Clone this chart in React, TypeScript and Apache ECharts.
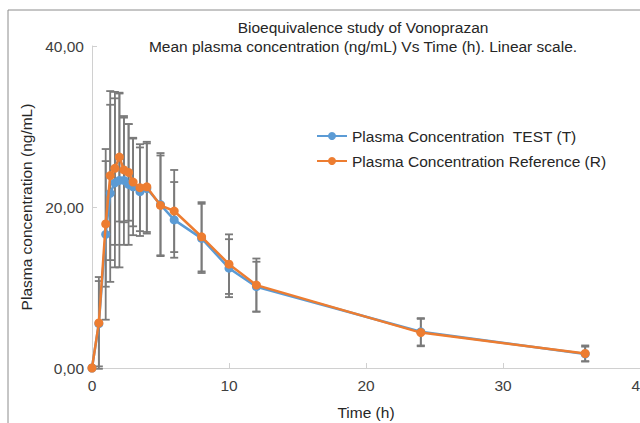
import React, { useEffect, useRef } from "react";
import * as echarts from "echarts";

const times = [0, 0.5, 1, 1.33, 1.67, 2, 2.33, 2.67, 3, 3.5, 4, 5, 6, 8, 10, 12, 24, 36];
const testMean = [0, 5.5, 16.6, 21.7, 23.0, 23.3, 23.3, 22.8, 22.5, 21.9, 22.3, 20.3, 18.4, 16.1, 12.4, 10.1, 4.5, 1.75];
const refMean = [0, 5.6, 17.9, 23.9, 24.8, 26.2, 24.6, 24.3, 23.1, 22.4, 22.5, 20.2, 19.5, 16.3, 12.9, 10.3, 4.4, 1.8];
const testSD = [0, 5.3, 10.6, 11.0, 10.5, 10.8, 8.0, 7.5, 6.0, 5.5, 5.6, 6.4, 4.7, 4.3, 3.6, 3.1, 1.7, 0.9];
const refSD = [0, 5.7, 7.8, 10.5, 9.5, 8.0, 6.5, 6.0, 5.5, 5.4, 5.6, 6.2, 5.1, 4.3, 3.7, 3.3, 1.7, 1.0];

const titleLines = ["Bioequivalence study of Vonoprazan", "Mean plasma concentration (ng/mL) Vs Time (h). Linear scale."];
const seriesNames = ["Plasma Concentration  TEST (T)", "Plasma Concentration Reference (R)"];

const FONT = "Liberation Sans, Arial, sans-serif";
const FS = 15.5;

export default function App() {
  const ref = useRef<HTMLDivElement>(null);
  useEffect(() => {
    document.body.style.margin = "0";
    const chart = echarts.init(ref.current!, undefined, { renderer: "svg" });
    const errData = (mean: number[], sd: number[]) =>
      times.map((t, i) => [t, mean[i] - sd[i], mean[i] + sd[i]]);
    const renderErr = (params: any, api: any) => {
      const x = api.value(0);
      const lo = api.coord([x, api.value(1)]);
      const hi = api.coord([x, api.value(2)]);
      const cw = 4;
      const style = { stroke: "#7a7a7a", lineWidth: 1.8 };
      return {
        type: "group",
        children: [
          { type: "line", shape: { x1: lo[0], y1: lo[1], x2: hi[0], y2: hi[1] }, style },
          { type: "line", shape: { x1: lo[0] - cw, y1: lo[1], x2: lo[0] + cw, y2: lo[1] }, style },
          { type: "line", shape: { x1: hi[0] - cw, y1: hi[1], x2: hi[0] + cw, y2: hi[1] }, style },
        ],
      };
    };
    chart.setOption({
      animation: false,
      textStyle: { fontFamily: FONT },
      graphic: [
        {
          type: "rect",
          shape: { x: 8, y: 10, width: 800, height: 600 },
          style: { fill: "none", stroke: "#8c8c8c", lineWidth: 1 },
          z: -10,
        },
        {
          type: "text",
          x: 363,
          y: 27,
          style: { text: titleLines[0], fontSize: FS, fontFamily: FONT, fill: "#262626", align: "center", verticalAlign: "middle" },
        },
        {
          type: "text",
          x: 363,
          y: 46,
          style: { text: titleLines[1], fontSize: FS, fontFamily: FONT, fill: "#262626", align: "center", verticalAlign: "middle" },
        },
      ],
      grid: { left: 92, right: 0, top: 46, bottom: 55, containLabel: false, outerBoundsMode: "none" },
      legend: {
        orient: "vertical",
        left: 316,
        top: 128,
        padding: 0,
        itemGap: 9,
        itemWidth: 30,
        itemHeight: 10,
        data: seriesNames,
        textStyle: { fontSize: FS, color: "#262626", fontFamily: FONT },
      },
      xAxis: {
        type: "value",
        min: 0,
        max: 40,
        interval: 10,
        name: "Time (h)",
        nameLocation: "middle",
        nameGap: 36,
        nameTextStyle: { fontSize: FS, color: "#262626", fontFamily: FONT },
        axisLine: { lineStyle: { color: "#d0d0d0", width: 1 } },
        axisTick: { inside: true, length: 5, lineStyle: { color: "#d0d0d0" } },
        axisLabel: { fontSize: FS, color: "#404040", margin: 9, fontFamily: FONT },
        splitLine: { show: false },
      },
      yAxis: {
        type: "value",
        min: 0,
        max: 40,
        interval: 20,
        name: "Plasma concentration (ng/mL)",
        nameLocation: "middle",
        nameGap: 58,
        nameTextStyle: { fontSize: FS, color: "#262626", fontFamily: FONT },
        axisLine: { show: true, lineStyle: { color: "#d0d0d0", width: 1 } },
        axisTick: { show: true, inside: true, length: 5, lineStyle: { color: "#d0d0d0" } },
        axisLabel: {
          fontSize: FS,
          color: "#404040",
          margin: 8,
          fontFamily: FONT,
          formatter: (v: number) => v.toFixed(2).replace(".", ","),
        },
        splitLine: { show: false },
      },
      series: [
        {
          type: "custom",
          name: "errT",
          renderItem: renderErr,
          data: errData(testMean, testSD),
          encode: { x: 0, y: [1, 2] },
          z: 1,
          silent: true,
        },
        {
          type: "custom",
          name: "errR",
          renderItem: renderErr,
          data: errData(refMean, refSD),
          encode: { x: 0, y: [1, 2] },
          z: 1,
          silent: true,
        },
        {
          type: "line",
          name: seriesNames[0],
          data: times.map((t, i) => [t, testMean[i]]),
          color: "#5B9BD5",
          lineStyle: { width: 2.5, color: "#5B9BD5" },
          itemStyle: { color: "#5B9BD5" },
          symbol: "circle",
          symbolSize: 9,
          z: 3,
        },
        {
          type: "line",
          name: seriesNames[1],
          data: times.map((t, i) => [t, refMean[i]]),
          color: "#ED7D31",
          lineStyle: { width: 2.5, color: "#ED7D31" },
          itemStyle: { color: "#ED7D31" },
          symbol: "circle",
          symbolSize: 9,
          z: 4,
        },
      ],
    });
    return () => chart.dispose();
  }, []);
  return <div ref={ref} style={{ width: 640, height: 423 }} />;
}
